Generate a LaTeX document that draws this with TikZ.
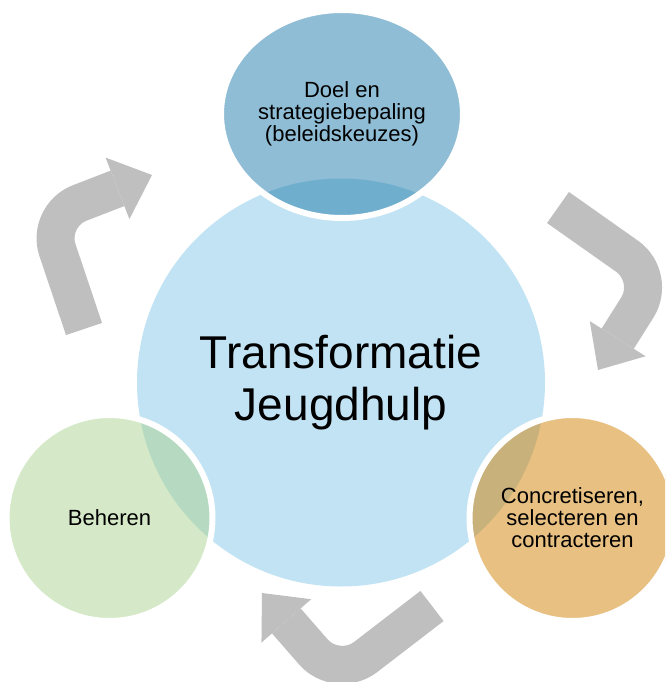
\documentclass[tikz,border=0pt]{standalone}
\usepackage{fontspec}
\setmainfont{Liberation Sans}
\usepackage{tikz}
\usetikzlibrary{arrows.meta, shapes.geometric}

\definecolor{hubblue}{RGB}{194,227,243}
\definecolor{doelblue}{RGB}{31,123,171}
\definecolor{beheergreen}{RGB}{171,211,145}
\definecolor{contractorange}{RGB}{209,129,5}
\definecolor{arrowgray}{RGB}{191,191,191}

\begin{document}
\begin{tikzpicture}[
  x=1pt, y=-1pt,
  every node/.style={align=center, text=black},
  hub/.style={circle, fill=hubblue, minimum size=408pt, inner sep=0pt, font=\fontsize{46}{52}\selectfont},
  phase/.style={circle, draw=white, line width=6pt, fill opacity=0.5, text opacity=1, minimum size=206pt, inner sep=0pt, font=\fontsize{22}{22}\selectfont},
  cyclearrow/.style={draw=arrowgray, line width=38pt, rounded corners=36pt, -{Triangle[length=37pt, width=66pt, line width=0pt]}}
]

\useasboundingbox (0,0) rectangle (665,682);
\clip (0,0) rectangle (665,682);

\node (hub) [hub] at (341,382.5) {Transformatie\\Jeugdhulp};
\node (doel) [phase, ellipse, fill=doelblue, minimum width=242pt, minimum height=208pt] at (342,114) {Doel en\\strategiebepaling\\(beleidskeuzes)};
\node (beheer) [phase, fill=beheergreen] at (109.5,518) {Beheren};
\node (contract) [phase, fill=contractorange] at (572.5,518) {Concretiseren,\\selecteren en\\contracteren};

\coordinate (tail1) at (84,329);
\coordinate (bend1) at (46,216);
\coordinate (tip1) at (152,175);
\coordinate (tail2) at (558,207.5);
\coordinate (bend2) at (656.5,277);
\coordinate (tip2) at (598,370);
\coordinate (tail3) at (432,606);
\coordinate (bend3) at (337,679);
\coordinate (tip3) at (262,593);

\draw[cyclearrow] (tail1) -- (bend1) -- (tip1);
\draw[cyclearrow] (tail2) -- (bend2) -- (tip2);
\draw[cyclearrow] (tail3) -- (bend3) -- (tip3);

\end{tikzpicture}
\end{document}
